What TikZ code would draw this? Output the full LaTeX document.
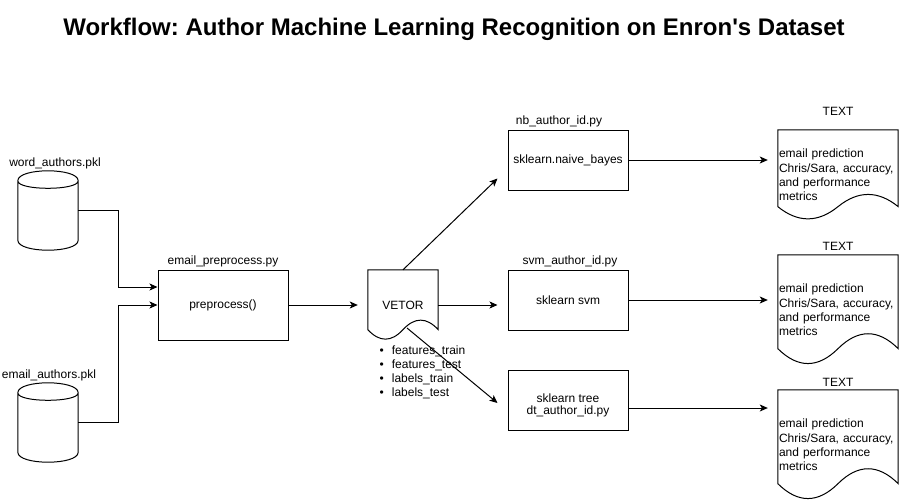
\documentclass[tikz,border=0pt]{standalone}
\usepackage{fontspec}
\setmainfont{Liberation Sans}
\usetikzlibrary{calc,positioning,arrows.meta}
\frenchspacing

\tikzset{
  box/.style={draw, line width=1pt, minimum width=120pt, minimum height=60pt, inner sep=1pt, align=center},
  dbnode/.style={minimum width=60pt, minimum height=79pt, inner sep=0pt},
  docnode/.style={minimum width=120pt, inner xsep=1pt, inner ysep=0pt, text width=118pt, align=left},
  arr/.style={line width=1pt, -{Stealth[length=8pt,width=7pt,inset=2pt]}},
  every label/.style={inner sep=2pt}
}

%Document outline with a wavy bottom
\newcommand{\docshape}[1]{%
\draw[line width=1pt] let \p1=(#1.north west), \p2=(#1.south east), \n1={\x2-\x1}, \n2={\y1-\y2} in
  (\p1) -- (\x2,\y1) -- ({\x2},{\y1-0.85*\n2})
  .. controls ({\x1+0.8333*\n1},{\y1-0.67*\n2}) and ({\x1+0.6667*\n1},{\y1-0.67*\n2}) .. ({\x1+0.5*\n1},{\y1-0.85*\n2})
  .. controls ({\x1+0.3333*\n1},{\y1-1.03*\n2}) and ({\x1+0.1667*\n1},{\y1-1.03*\n2}) .. ({\x1},{\y1-0.85*\n2})
  -- cycle;}

%Database cylinder
\newcommand{\dbshape}[1]{%
\draw[line width=1pt] let \p1=(#1.north west), \p2=(#1.south east) in
  ({\x1},{\y1-10pt}) .. controls ({\x1},{\y1+3.33pt}) and ({\x2},{\y1+3.33pt}) .. ({\x2},{\y1-10pt})
  -- ({\x2},{\y2+10pt}) .. controls ({\x2},{\y2-3.33pt}) and ({\x1},{\y2-3.33pt}) .. ({\x1},{\y2+10pt}) -- cycle
  ({\x1},{\y1-10pt}) .. controls ({\x1},{\y1-20pt}) and ({\x2},{\y1-20pt}) .. ({\x2},{\y1-10pt});}

\begin{document}
\begin{tikzpicture}[x=1pt,y=-1pt,font=\fontsize{12}{14.4}\selectfont]
\useasboundingbox (0,0) rectangle (899,501);

%Title
\node[font=\fontsize{24}{28}\selectfont\bfseries] (title) at (454,29) {Workflow: Author Machine Learning Recognition on Enron\textquotesingle s Dataset};

%Data files
\node[dbnode, label={[xshift=7pt]above:word\_authors.pkl}] (word) at (48,210.5) {};
\node[dbnode, label={[xshift=1pt]above:email\_authors.pkl}] (email) at (48,422.5) {};
\dbshape{word}
\dbshape{email}

%Preprocessing and vector
\node[box, minimum width=130pt, minimum height=70pt, label={above:email\_preprocess.py}] (pre) at (223,305) {preprocess()};
\node[minimum width=70pt, minimum height=70pt, inner sep=0pt] (vetor) at (403,305) {VETOR};
\docshape{vetor}
\node[anchor=north west, inner sep=0pt, align=left, font=\fontsize{12}{14}\selectfont] (vars) at (379.5,345.5) {%
\makebox[12.2pt][l]{\textbullet}features\_train\\
\makebox[12.2pt][l]{\textbullet}features\_test\\
\makebox[12.2pt][l]{\textbullet}labels\_train\\
\makebox[12.2pt][l]{\textbullet}labels\_test};

%Classifiers
\node[box, label={[xshift=-9pt]above:nb\_author\_id.py}] (nb) at (568,160) {sklearn.naive\_bayes};
\node[box, label={[xshift=2pt]above:svm\_author\_id.py}] (svm) at (568,300) {sklearn svm};
\node[box, label={[yshift=-5pt,align=center,font=\fontsize{12}{12}\selectfont]center:sklearn tree\\dt\_author\_id.py}] (tree) at (568,400) {};

%Results
\node[docnode, minimum height=90pt, label={[label distance=12pt]above:TEXT}] (res1) at (838,175) {email prediction\\Chris/Sara, accuracy,\\and performance\\metrics};
\node[docnode, minimum height=110pt, label={[label distance=2.5pt]above:TEXT}] (res2) at (838,310) {email prediction\\Chris/Sara, accuracy,\\and performance\\metrics};
\node[docnode, minimum height=110pt, label={[label distance=1.5pt]above:TEXT}] (res3) at (838,445) {email prediction\\Chris/Sara, accuracy,\\and performance\\metrics};
\docshape{res1}
\docshape{res2}
\docshape{res3}

%Connectors
\coordinate (nbin) at ($(nb.south west)+(-10,-12)$);
\coordinate (vbot) at ($(vetor.center)+(4,23)$);
\coordinate (treein) at ($(tree.west)+(-10,3)$);
\draw[arr] (word.east) -- ++(40,0) |- ([yshift=18pt]pre.west);
\draw[arr] (email.east) -- ++(40,0) |- (pre.west);
\draw[arr, shorten >=10pt] (pre.east) -- (vetor.west);
\draw[arr] (vetor.north) -- (nbin);
\draw[arr, shorten >=10pt] (vetor.east) -- (vetor.east -| svm.west);
\draw[arr] (vbot) -- (treein);
\draw[arr, shorten >=10pt] (nb.east) -- (nb.east -| res1.west);
\draw[arr, shorten >=10pt] (svm.east) -- (svm.east -| res2.west);
\draw[arr, shorten >=10pt] ([yshift=-8pt]tree.east) -- ([yshift=-8pt]tree.east -| res3.west);

\end{tikzpicture}
\end{document}
